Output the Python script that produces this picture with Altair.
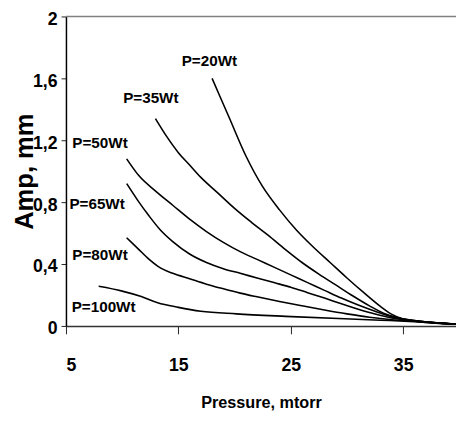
import altair as alt
import pandas as pd

# ---- data ----
p20_x = [18.0, 19.5, 21.0, 22.5, 24.0, 25.5, 27.0, 28.5, 30.0, 31.5, 33.0, 34.0, 35.0, 36.0, 38.0, 40.0]
p20_y = [1.60, 1.35, 1.10, 0.90, 0.75, 0.62, 0.51, 0.41, 0.31, 0.215, 0.125, 0.075, 0.045, 0.035, 0.02, 0.01]

p35_x = [12.96, 14.0, 15.0, 16.0, 17.0, 18.5, 20.0, 21.5, 23.0, 24.5, 26.0, 27.5, 29.0, 30.5, 32.0, 33.5, 35.0, 36.5, 38.0, 40.0]
p35_y = [1.34, 1.22, 1.12, 1.04, 0.96, 0.86, 0.76, 0.67, 0.585, 0.495, 0.41, 0.335, 0.265, 0.195, 0.13, 0.075, 0.045, 0.03, 0.02, 0.01]

p50_x = [10.4, 11.5, 13.0, 14.5, 16.0, 17.5, 19.0, 20.5, 22.0, 23.5, 25.0, 26.5, 28.0, 29.5, 31.0, 32.5, 34.0, 35.5, 37.5, 40.0]
p50_y = [1.08, 0.97, 0.87, 0.78, 0.69, 0.61, 0.54, 0.48, 0.43, 0.38, 0.33, 0.28, 0.23, 0.18, 0.135, 0.095, 0.06, 0.04, 0.022, 0.01]

p65_x = [10.4, 11.4, 12.4, 13.4, 14.5, 16.0, 17.5, 19.0, 20.5, 22.0, 23.5, 25.0, 26.5, 28.0, 29.5, 31.0, 32.5, 34.0, 35.5, 37.5, 40.0]
p65_y = [0.92, 0.81, 0.71, 0.62, 0.545, 0.465, 0.41, 0.37, 0.34, 0.31, 0.28, 0.25, 0.215, 0.18, 0.143, 0.108, 0.077, 0.052, 0.036, 0.02, 0.01]

p80_x = [10.4, 11.4, 12.4, 13.4, 14.5, 16.0, 17.5, 19.0, 20.5, 22.0, 24.0, 26.0, 28.0, 30.0, 32.0, 34.0, 36.0, 38.0, 40.0]
p80_y = [0.57, 0.50, 0.43, 0.375, 0.34, 0.305, 0.27, 0.24, 0.212, 0.188, 0.158, 0.13, 0.103, 0.078, 0.056, 0.04, 0.03, 0.02, 0.01]

p100_x = [7.91, 10.0, 11.7, 13.16, 15.0, 17.0, 20.17, 24.54, 29.79, 33.0, 36.0, 40.0]
p100_y = [0.256, 0.225, 0.19, 0.15, 0.12, 0.095, 0.078, 0.062, 0.046, 0.037, 0.028, 0.01]

series_names = ["P=20Wt", "P=35Wt", "P=50Wt", "P=65Wt", "P=80Wt", "P=100Wt"]
label_x = [17.76, 12.55, 8.03, 7.77, 8.03, 8.35]
label_y = [1.71, 1.47, 1.18, 0.79, 0.457, 0.125]

x_ticks = [5, 15, 25, 35]
y_ticks = [0, 0.4, 0.8, 1.2, 1.6, 2]
x_min, x_max = 5, 39.7
y_min, y_max = 0, 2

# ---- build tables ----
rows = []
for name, xs, ys in zip(series_names,
                        [p20_x, p35_x, p50_x, p65_x, p80_x, p100_x],
                        [p20_y, p35_y, p50_y, p65_y, p80_y, p100_y]):
    for i, (xv, yv) in enumerate(zip(xs, ys)):
        rows.append({"series": name, "order": i, "x": xv, "y": yv})
lines_df = pd.DataFrame(rows)
labels_df = pd.DataFrame({"series": series_names, "x": label_x, "y": label_y})
border_df = pd.DataFrame({"x": [x_min], "x2": [x_max], "y": [y_max]})

FONT = "Liberation Sans, Arial, sans-serif"
W, H = 397, 315

xscale = alt.Scale(domain=[x_min, x_max], nice=False, zero=False)
yscale = alt.Scale(domain=[y_min, y_max], nice=False, zero=False)

x_axis = alt.Axis(values=x_ticks, grid=False, tickSize=8, tickColor="#222",
                  domainColor="#333", domainWidth=1.5, tickWidth=1,
                  labelFont=FONT, labelFontSize=18, labelFontWeight="bold",
                  labelColor="black", labelPadding=23,
                  title="Pressure, mtorr", titleFont=FONT, titleFontSize=16.5,
                  titleFontWeight="bold", titleColor="black",
                  titleY=83, titleBaseline="alphabetic")
y_axis = alt.Axis(values=y_ticks, grid=False, tickSize=5, tickColor="#222",
                  domainColor="black", domainWidth=1.5, tickWidth=1,
                  labelFont=FONT, labelFontSize=18, labelFontWeight="bold",
                  labelColor="black", labelPadding=4, labelOffset=3,
                  labelExpr="replace(format(datum.value, '.1~f'), '.', ',')",
                  title="Amp, mm", titleFont=FONT, titleFontSize=26,
                  titleFontWeight="bold", titleColor="black",
                  titleX=-34, titleY=H / 2, titleBaseline="alphabetic", titleAngle=270)

lines = alt.Chart(lines_df).mark_line(color="black", strokeWidth=1.6,
                                      interpolate="monotone", clip=True).encode(
    x=alt.X("x:Q", scale=xscale, axis=x_axis),
    y=alt.Y("y:Q", scale=yscale, axis=y_axis),
    detail="series:N",
    order="order:Q",
)

labels = alt.Chart(labels_df).mark_text(font=FONT, fontSize=15.5, fontWeight="bold",
                                        color="black", align="center",
                                        baseline="middle").encode(
    x=alt.X("x:Q", scale=xscale),
    y=alt.Y("y:Q", scale=yscale),
    text="series:N",
)

top_border = alt.Chart(border_df).mark_rule(color="#808080", strokeWidth=1.5).encode(
    x=alt.X("x:Q", scale=xscale),
    x2="x2:Q",
    y=alt.Y("y:Q", scale=yscale),
)

chart = alt.layer(top_border, lines, labels).properties(
    width=W, height=H,
    autosize=alt.AutoSizeParams(type="none"),
    padding={"left": 59, "top": 5, "right": 0, "bottom": 85},
    background="white",
).configure_view(stroke=None)

chart.save("out.html", embed_options={"renderer": "svg", "actions": False})
